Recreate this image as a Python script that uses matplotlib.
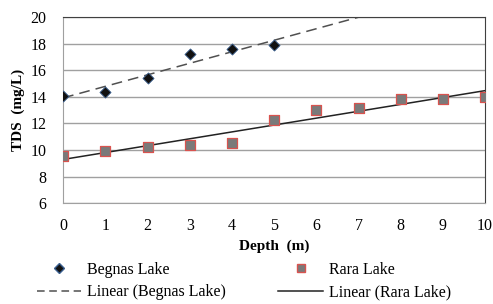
import numpy as np
import matplotlib
matplotlib.use("Agg")
import matplotlib.pyplot as plt
from matplotlib.lines import Line2D

# Data
begnas_depth = [0, 1, 2, 3, 4, 5]
begnas_tds = [14.1, 14.4, 15.4, 17.2, 17.6, 17.9]
rara_depth = [0, 1, 2, 3, 4, 5, 6, 7, 8, 9, 10]
rara_tds = [9.55, 9.9, 10.25, 10.35, 10.5, 12.25, 13.0, 13.2, 13.85, 13.85, 14.0]

plt.rcParams["font.family"] = ["Liberation Serif", "DejaVu Serif"]

fig = plt.figure(figsize=(4.93, 3.04), dpi=100)
ax = fig.add_axes([0.128, 0.332, 0.856, 0.611])

dash = (0, (7, 4))

# linear trendlines over the whole x-range (Excel-style)
xs = np.array([0, 10])
for xd, yd, ls in [(begnas_depth, begnas_tds, dash), (rara_depth, rara_tds, "-")]:
    m, b = np.polyfit(xd, yd, 1)
    ax.plot(xs, m * xs + b, color="#222222" if ls == "-" else "#505050",
            lw=1.1, ls=ls, zorder=2)

ax.scatter(begnas_depth, begnas_tds, marker="D", s=32, color="#111111",
           edgecolors="#3a5f8f", linewidths=0.6, zorder=3)
ax.scatter(rara_depth, rara_tds, marker="s", s=55, color="#7a7a7a",
           edgecolors="#d9534f", linewidths=0.9, zorder=3)

ax.set_xlim(0, 10)
ax.set_ylim(6, 20)
ax.set_xticks(range(0, 11))
ax.set_yticks(range(6, 21, 2))
ax.tick_params(length=0, labelsize=11.5)
ax.tick_params(axis="x", pad=11)
ax.tick_params(axis="y", pad=12)
ax.yaxis.grid(True, color="#a0a0a0", lw=1.0)
ax.set_axisbelow(True)
for s in ["left", "bottom"]:
    ax.spines[s].set_color("#a0a0a0")
for s in ["top", "right"]:
    ax.spines[s].set_color("#404040")

ax.set_xlabel("Depth  (m)", fontsize=11, fontweight="bold", labelpad=4)
ax.set_ylabel("TDS  (mg/L)", fontsize=11, fontweight="bold", labelpad=4)

handles = [
    Line2D([], [], ls="none", marker="D", ms=5, color="#111111",
           markeredgecolor="#3a5f8f"),
    Line2D([], [], color="#505050", lw=1.1, ls=(0, (5, 3))),
    Line2D([], [], ls="none", marker="s", ms=6, color="#7a7a7a",
           markeredgecolor="#d9534f"),
    Line2D([], [], color="#222222", lw=1.1),
]
labels = ["Begnas Lake", "Linear (Begnas Lake)", "Rara Lake", "Linear (Rara Lake)"]
fig.legend(handles, labels, loc="lower left", bbox_to_anchor=(0.045, -0.035),
           ncol=2, frameon=False, fontsize=11.5, columnspacing=3.3,
           handlelength=2.8, handletextpad=0.35, labelspacing=0.42)

fig.savefig("out.png", dpi=100)
